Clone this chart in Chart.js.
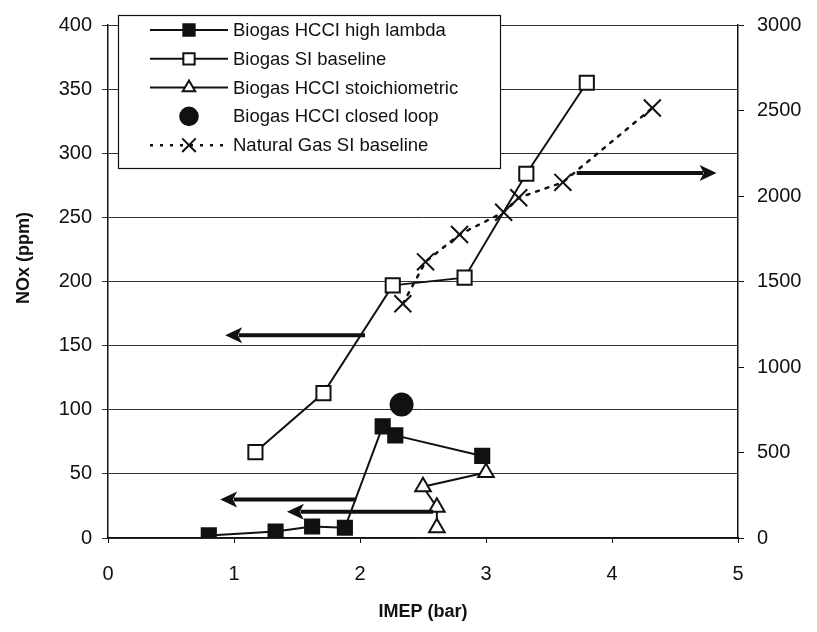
<!DOCTYPE html>
<html>
<head>
<meta charset="utf-8">
<script src="https://cdn.jsdelivr.net/npm/chart.js@4.4.1/dist/chart.umd.min.js"></script>
<style>
  html, body { margin: 0; padding: 0; background: #fff; }
  #wrap { width: 817px; height: 632px; }
</style>
</head>
<body>
<div id="wrap"><canvas id="chart" width="817" height="632"></canvas></div>
<script>
// IMEP (bar) vs NOx (ppm)
const hcciLambdaImep = [0.80, 1.33, 1.62, 1.88, 2.18, 2.28, 2.97];
const hcciLambdaNox  = [2, 5, 9, 8, 87, 80, 64];
const siBiogasImep   = [1.17, 1.71, 2.26, 2.83, 3.32, 3.80];
const siBiogasNox    = [67, 113, 197, 203, 284, 355];
const hcciStoichImep = [2.61, 2.61, 2.50, 3.00];
const hcciStoichNox  = [8, 24, 40, 51];
const closedLoopImep = [2.33];
const closedLoopNox  = [104];
// natural gas goes on the right-hand axis
const ngImep = [2.34, 2.52, 2.79, 3.14, 3.26, 3.61, 4.32];
const ngNox  = [1370, 1615, 1775, 1905, 1990, 2080, 2515];

const leftTicks  = [0, 50, 100, 150, 200, 250, 300, 350, 400];
const rightTicks = [0, 500, 1000, 1500, 2000, 2500, 3000];
const xTicks     = [0, 1, 2, 3, 4, 5];

const seriesNames = [
  'Biogas HCCI high lambda',
  'Biogas SI baseline',
  'Biogas HCCI stoichiometric',
  'Biogas HCCI closed loop',
  'Natural Gas SI baseline'
];

// arrows pointing at the axis each curve belongs to (data coords)
const arrows = [
  { axis: 'y',  from: [2.04, 158],  to: [0.93, 158] },
  { axis: 'y',  from: [1.97, 30],   to: [0.89, 30] },
  { axis: 'y',  from: [2.58, 20.5], to: [1.42, 20.5] },
  { axis: 'y2', from: [3.72, 2135], to: [4.83, 2135] }
];

const ink = '#111';
const font = 'Liberation Sans, Arial, sans-serif';

function pts(xs, ys) {
  return xs.map((x, i) => ({ x: x, y: ys[i] }));
}

const arrowPlugin = {
  id: 'arrows',
  afterDatasetsDraw(chart) {
    const ctx = chart.ctx;
    const xs = chart.scales.x;
    ctx.save();
    ctx.strokeStyle = ink;
    ctx.fillStyle = ink;
    ctx.lineWidth = 4;
    arrows.forEach(a => {
      const ys = chart.scales[a.axis];
      const x1 = xs.getPixelForValue(a.from[0]), y1 = ys.getPixelForValue(a.from[1]);
      const x2 = xs.getPixelForValue(a.to[0]),   y2 = ys.getPixelForValue(a.to[1]);
      const dir = Math.sign(x2 - x1);
      const headLen = 17;
      ctx.beginPath();
      ctx.moveTo(x1, y1);
      ctx.lineTo(x2 - dir * headLen * 0.8, y2);
      ctx.stroke();
      ctx.beginPath();
      ctx.moveTo(x2, y2);
      ctx.lineTo(x2 - dir * headLen, y2 - 8);
      ctx.lineTo(x2 - dir * headLen * 0.75, y2);
      ctx.lineTo(x2 - dir * headLen, y2 + 8);
      ctx.closePath();
      ctx.fill();
    });
    ctx.restore();
  }
};

const legendPlugin = {
  id: 'boxLegend',
  afterDraw(chart) {
    const ctx = chart.ctx;
    const box = { left: 118, top: 15, right: 500, bottom: 168 };
    ctx.save();
    ctx.fillStyle = '#fff';
    ctx.fillRect(box.left, box.top, box.right - box.left, box.bottom - box.top);
    ctx.strokeStyle = ink;
    ctx.lineWidth = 1.2;
    ctx.strokeRect(box.left + 0.5, box.top + 0.5, box.right - box.left, box.bottom - box.top);

    ctx.textBaseline = 'middle';
    chart.data.datasets.forEach((ds, i) => {
      const y = 30 + i * 28.8;
      if (ds.showLine !== false) {
        ctx.beginPath();
        ctx.setLineDash(ds.borderDash || []);
        ctx.lineWidth = ds.borderWidth;
        ctx.strokeStyle = ink;
        ctx.moveTo(150, y);
        ctx.lineTo(228, y);
        ctx.stroke();
        ctx.setLineDash([]);
      }
      // marker, same style as in the plot but a bit smaller
      ctx.fillStyle = ds.pointBackgroundColor;
      ctx.strokeStyle = ink;
      ctx.lineWidth = ds.pointBorderWidth;
      Chart.helpers.drawPoint(ctx, {
        pointStyle: ds.pointStyle,
        radius: ds.pointRadius * 0.8,
        borderWidth: ds.pointBorderWidth
      }, 189, y);
      ctx.fillStyle = ink;
      ctx.font = '18.5px ' + font;
      ctx.fillText(ds.label, 233, y + 1);
    });
    ctx.restore();

    // y title, a little above the plot's middle as in the original
    ctx.save();
    ctx.translate(24, 258);
    ctx.rotate(-Math.PI / 2);
    ctx.font = 'bold 18px ' + font;
    ctx.fillStyle = ink;
    ctx.textAlign = 'center';
    ctx.textBaseline = 'middle';
    ctx.fillText('NOx (ppm)', 0, 0);
    ctx.restore();
  }
};

function series(label, data, style, fill, r, extra) {
  return Object.assign({
    label: label,
    data: data,
    yAxisID: 'y',
    borderColor: ink,
    borderWidth: 2,
    pointStyle: style,
    pointRadius: r,
    pointHoverRadius: r,
    pointBackgroundColor: fill,
    pointBorderColor: ink,
    pointBorderWidth: 2,
    showLine: true,
    fill: false,
    tension: 0
  }, extra || {});
}

const datasets = [
  series(seriesNames[0], pts(hcciLambdaImep, hcciLambdaNox), 'rect', ink, 10),
  series(seriesNames[1], pts(siBiogasImep, siBiogasNox), 'rect', '#fff', 10),
  series(seriesNames[2], pts(hcciStoichImep, hcciStoichNox), 'triangle', '#fff', 9),
  series(seriesNames[3], pts(closedLoopImep, closedLoopNox), 'circle', ink, 11, { showLine: false }),
  series(seriesNames[4], pts(ngImep, ngNox), 'crossRot', '#fff', 12,
    { yAxisID: 'y2', borderDash: [3, 7], borderWidth: 2.5, borderCapStyle: 'round' })
];

const tickFont = { family: font, size: 20 };
const plain = v => String(v);

new Chart(document.getElementById('chart'), {
  type: 'scatter',
  data: { datasets: datasets },
  options: {
    responsive: false,
    animation: false,
    layout: { padding: { top: 20, left: 0, right: 0, bottom: 0 } },
    plugins: { legend: { display: false }, tooltip: { enabled: false } },
    scales: {
      x: {
        type: 'linear',
        min: 0, max: 5,
        afterBuildTicks: s => { s.ticks = xTicks.map(v => ({ value: v })); },
        afterFit: s => { s.height = 94; },
        ticks: { font: tickFont, color: ink, padding: 19, callback: plain },
        grid: { drawOnChartArea: false, drawTicks: true, tickLength: 5, color: ink },
        border: { color: ink, width: 1.2 },
        title: { display: true, text: 'IMEP (bar)', color: ink,
                 font: { family: font, size: 18, weight: 'bold' }, padding: { top: 0, bottom: 9 } }
      },
      y: {
        position: 'left',
        min: 0, max: 400,
        afterBuildTicks: s => { s.ticks = leftTicks.map(v => ({ value: v })); },
        afterFit: s => { s.width = 108; },
        ticks: { font: tickFont, color: ink, padding: 10, callback: plain },
        grid: { color: '#333', lineWidth: 1, tickLength: 6 },
        border: { color: ink, width: 1.5 }
      },
      y2: {
        position: 'right',
        min: 0, max: 3000,
        afterBuildTicks: s => { s.ticks = rightTicks.map(v => ({ value: v })); },
        afterFit: s => { s.width = 79; },
        ticks: { font: tickFont, color: ink, padding: 13, callback: plain },
        grid: { drawOnChartArea: false, tickLength: 6, color: ink },
        border: { color: ink, width: 1.5 }
      }
    }
  },
  plugins: [arrowPlugin, legendPlugin]
});
</script>
</body>
</html>
